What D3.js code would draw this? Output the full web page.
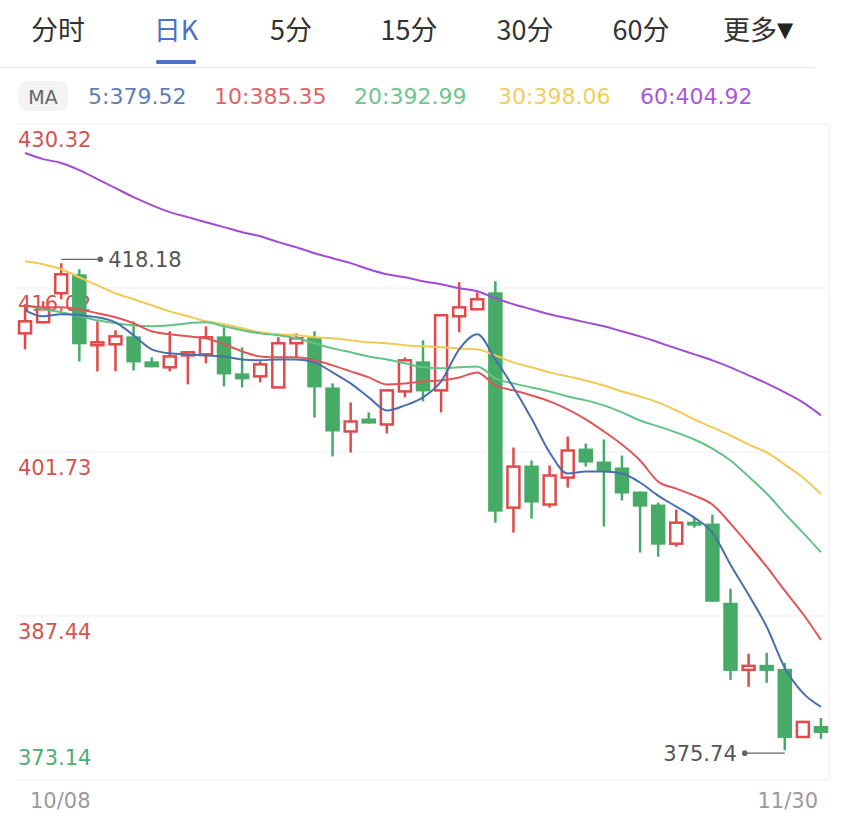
<!DOCTYPE html>
<html><head><meta charset="utf-8">
<script src="https://cdn.jsdelivr.net/npm/d3@7"></script>
<style>
html,body{margin:0;padding:0;background:#fff;}
svg{display:block;}
</style></head>
<body>
<svg id="c" width="850" height="823"></svg>
<script>
// ---------- data ----------
const tabs = ["分时","日K","5分","15分","30分","60分","更多"];
const activeTab = "日K";
const maLegend = [
  {label:"5:379.52",  color:"#5b80b9"},
  {label:"10:385.35", color:"#e06565"},
  {label:"20:392.99", color:"#6cc58c"},
  {label:"30:398.06", color:"#f1cd62"},
  {label:"60:404.92", color:"#aa58d8"}
];
const yTicks = [430.32, 416.02, 401.73, 387.44, 373.14];
const xLabels = ["10/08","11/30"];

const open  = [412.07,413.04,415.57,417.22,411.04,411.12,411.81,409.63,409.11,410.15,410.24,411.81,408.58,408.32,407.36,411.21,411.73,407.36,403.52,404.65,404.13,407.01,409.63,407.10,413.56,414.17,415.65,396.88,400.55,397.15,399.50,402.03,400.90,400.38,398.28,397.15,393.74,395.66,395.49,388.59,382.74,383.18,382.83,376.89,377.85];
const high  = [414.61,414.87,418.18,417.66,413.12,412.34,413.12,409.98,412.25,410.50,412.69,412.60,410.86,409.63,411.73,412.07,412.25,407.71,406.05,405.18,407.19,409.98,411.46,413.73,416.53,415.65,416.61,402.12,400.99,400.55,403.08,402.47,402.82,401.42,398.28,397.32,396.71,396.01,396.27,389.81,384.14,384.23,383.35,378.30,378.55];
const low   = [410.68,412.95,415.04,409.63,408.76,408.76,408.84,409.11,408.76,407.62,409.46,407.45,407.36,407.80,407.36,409.98,404.74,401.34,401.69,404.21,403.34,406.49,406.14,405.18,412.16,414.17,395.57,394.70,395.92,396.88,398.63,400.46,395.23,397.50,392.96,392.61,393.48,395.14,388.68,381.87,381.26,381.61,375.74,376.80,376.72];
const close = [413.12,414.17,417.22,411.12,411.29,411.81,409.54,409.11,410.06,410.42,411.73,408.49,408.06,409.37,411.21,411.64,407.36,403.52,404.39,404.21,407.10,409.72,407.01,413.65,414.34,415.04,396.53,400.46,397.32,399.68,401.86,400.81,400.03,398.11,396.97,393.65,395.57,395.31,388.68,382.65,383.09,382.65,376.81,378.20,377.24];

const ma5  = [414.08,413.56,413.73,413.65,413.47,413.03,411.90,410.68,410.33,410.24,410.15,410.06,409.80,409.72,409.80,409.80,409.54,408.67,407.71,406.49,405.35,405.79,406.49,407.88,410.68,411.99,409.80,407.36,404.65,401.69,399.85,400.03,400.03,399.85,399.07,397.93,396.97,396.01,394.70,391.91,389.29,386.50,382.92,380.73,379.52];
const ma10 = [414.52,414.34,414.34,414.17,413.82,413.47,412.95,412.25,411.99,411.81,411.64,411.12,410.50,410.06,409.98,409.98,409.72,409.28,408.76,408.23,407.62,407.71,407.88,407.97,408.23,408.67,407.53,407.10,406.66,406.14,405.44,404.57,403.52,402.38,400.99,399.15,398.54,397.93,397.15,395.49,393.65,391.73,389.64,387.63,385.35];
const ma20 = [414.52,414.17,413.91,413.56,413.21,412.95,412.77,412.69,412.77,412.95,413.03,412.69,412.34,412.07,411.90,411.64,411.21,410.76,410.42,410.06,409.80,409.46,409.11,409.02,409.11,409.19,408.15,407.71,407.36,407.01,406.57,406.23,405.79,405.18,404.48,403.96,403.43,402.82,402.03,400.99,399.59,398.11,396.36,394.70,392.99];
const ma30 = [418.36,418.10,417.66,416.96,416.26,415.57,415.04,414.52,413.99,413.56,413.12,412.86,412.51,412.16,411.99,411.90,411.73,411.64,411.46,411.29,411.21,411.04,410.94,410.86,410.76,410.68,410.15,409.54,409.11,408.67,408.32,407.97,407.53,407.01,406.57,406.05,405.35,404.57,403.87,403.17,402.38,401.69,400.64,399.50,398.06];
const ma60 = [427.79,427.26,426.92,426.30,425.52,424.73,423.95,423.25,422.64,422.20,421.76,421.33,420.89,420.54,420.02,419.58,419.06,418.62,418.19,417.66,417.22,416.96,416.61,416.35,416.00,415.74,415.13,414.61,414.17,413.73,413.38,413.03,412.69,412.25,411.81,411.29,410.76,410.24,409.72,409.11,408.41,407.71,406.92,406.05,404.92];

const maSeries = [
  {vals:ma60, color:"#a24cd6"},
  {vals:ma30, color:"#f2c955"},
  {vals:ma20, color:"#64c286"},
  {vals:ma10, color:"#e05656"},
  {vals:ma5,  color:"#4a6fae"}
];

// ---------- drawing ----------
(function(){
const svg = d3.select("#c");
const numFont = "'DejaVu Sans', sans-serif";
const cjkFont = "'Noto Sans CJK SC', 'Noto Sans', sans-serif";

svg.append("rect").attr("width",850).attr("height",823).attr("fill","#fff");

// tabs
const tabCenters = {"分时":58,"日K":176,"5分":291,"15分":409,"30分":525,"60分":641,"更多":750};
svg.selectAll("text.tab").data(tabs).join("text")
  .attr("class","tab")
  .attr("x", d => tabCenters[d])
  .attr("y", 40)
  .attr("text-anchor","middle")
  .attr("font-family", cjkFont)
  .attr("font-size", 27)
  .attr("fill", d => d===activeTab ? "#4b72c8" : "#333")
  .text(d => d);
// dropdown triangle after 更多
svg.append("text").attr("x",777).attr("y",37).attr("font-family",numFont).attr("font-size",21)
  .attr("fill","#222").text("▼");
svg.append("rect").attr("x",156).attr("y",60).attr("width",40).attr("height",4).attr("rx",1.5).attr("fill","#4b72c8");
svg.append("line").attr("x1",0).attr("x2",815).attr("y1",67.5).attr("y2",67.5).attr("stroke","#ececec").attr("stroke-width",1.5);

// MA legend
svg.append("rect").attr("x",18).attr("y",81).attr("width",50).attr("height",30).attr("rx",9).attr("fill","#f4f4f4");
svg.append("text").attr("x",43).attr("y",104).attr("text-anchor","middle")
  .attr("font-family",numFont).attr("font-size",19).attr("fill","#666").text("MA");
const legX = [88, 214, 354, 498, 640];
svg.selectAll("text.leg").data(maLegend).join("text")
  .attr("class","leg")
  .attr("x",(d,i)=>legX[i]).attr("y",104)
  .attr("font-family",numFont).attr("font-size",22)
  .attr("fill",d=>d.color).text(d=>d.label);

// scales
const idx = d3.range(close.length);
const pTop = 124, pBottom = 780, pLeft = 16, pRight = 829;
const x = d3.scaleBand().domain(idx).range([pLeft, 830]).padding(0);
const y = d3.scaleLinear().domain([yTicks[yTicks.length-1], yTicks[0]]).range([pBottom, pTop]);
const cx = i => x(i) + x.bandwidth()/2;

// grid
const g = svg.append("g");
g.selectAll("line.grid").data(yTicks).join("line")
  .attr("x1",pLeft).attr("x2",pRight)
  .attr("y1",d=>y(d)).attr("y2",d=>y(d))
  .attr("stroke","#f4f4f4").attr("stroke-width",1.5);
g.append("line").attr("x1",pRight).attr("x2",pRight).attr("y1",pTop).attr("y2",pBottom)
  .attr("stroke","#f4f4f4").attr("stroke-width",1.5);

// y labels
svg.selectAll("text.ytick").data(yTicks).join("text")
  .attr("class","ytick")
  .attr("x",18)
  .attr("y",(d,i)=> i===yTicks.length-1 ? y(d)-15 : y(d)+23)
  .attr("font-family",numFont).attr("font-size",21)
  .attr("fill",(d,i)=> i===yTicks.length-1 ? "#4fae6f" : "#d4534f")
  .text(d=>d.toFixed(2));

// candles
const RED = "#e04a4a", GREEN = "#45ab66";
const bw = x.bandwidth()*0.8;
const cg = svg.append("g");
idx.forEach(i=>{
  const o=open[i], c=close[i], h=high[i], l=low[i];
  const up = c >= o;
  const col = up ? RED : GREEN;
  const yT = y(Math.max(o,c)), yB = y(Math.min(o,c));
  if (up) {
    cg.append("line").attr("x1",cx(i)).attr("x2",cx(i)).attr("y1",y(h)).attr("y2",yT).attr("stroke",col).attr("stroke-width",2.5);
    cg.append("line").attr("x1",cx(i)).attr("x2",cx(i)).attr("y1",yB).attr("y2",y(l)).attr("stroke",col).attr("stroke-width",2.5);
    cg.append("rect").attr("x",cx(i)-bw/2+1.25).attr("y",yT)
      .attr("width",bw-2.5).attr("height",Math.max(yB-yT,2))
      .attr("fill","#fff").attr("stroke",col).attr("stroke-width",2.5);
  } else {
    cg.append("line").attr("x1",cx(i)).attr("x2",cx(i)).attr("y1",y(h)).attr("y2",y(l)).attr("stroke",col).attr("stroke-width",2.5);
    cg.append("rect").attr("x",cx(i)-bw/2).attr("y",yT)
      .attr("width",bw).attr("height",Math.max(yB-yT,3))
      .attr("fill",col);
  }
});

// MA lines
const lineGen = d3.line().x((d,i)=>cx(i)).y(d=>y(d)).curve(d3.curveMonotoneX);
svg.append("g").selectAll("path").data(maSeries).join("path")
  .attr("d",d=>lineGen(d.vals))
  .attr("fill","none").attr("stroke",d=>d.color).attr("stroke-width",2);

// max / min markers
const hiIdx = d3.maxIndex(high), loIdx = d3.minIndex(low);
const hiY = y(high[hiIdx]) - 4, loY = y(low[loIdx]) + 3;
const mk = svg.append("g");
mk.append("line").attr("x1",cx(hiIdx)).attr("x2",cx(hiIdx)+38).attr("y1",hiY).attr("y2",hiY).attr("stroke","#666").attr("stroke-width",1.2);
mk.append("circle").attr("cx",cx(hiIdx)+39).attr("cy",hiY).attr("r",2.8).attr("fill","#666");
mk.append("text").attr("x",cx(hiIdx)+47).attr("y",hiY+8)
  .attr("font-family",numFont).attr("font-size",21).attr("fill","#555").text(high[hiIdx].toFixed(2));
mk.append("line").attr("x1",cx(loIdx)).attr("x2",cx(loIdx)-39).attr("y1",loY).attr("y2",loY).attr("stroke","#666").attr("stroke-width",1.2);
mk.append("circle").attr("cx",cx(loIdx)-40).attr("cy",loY).attr("r",2.8).attr("fill","#666");
mk.append("text").attr("x",cx(loIdx)-48).attr("y",loY+8).attr("text-anchor","end")
  .attr("font-family",numFont).attr("font-size",21).attr("fill","#555").text(low[loIdx].toFixed(2));

// x labels
svg.append("text").attr("x",30).attr("y",808).attr("font-family",numFont).attr("font-size",21).attr("fill","#9a9a9a").text(xLabels[0]);
svg.append("text").attr("x",818).attr("y",808).attr("text-anchor","end").attr("font-family",numFont).attr("font-size",21).attr("fill","#9a9a9a").text(xLabels[1]);
})();
</script>
</body></html>
